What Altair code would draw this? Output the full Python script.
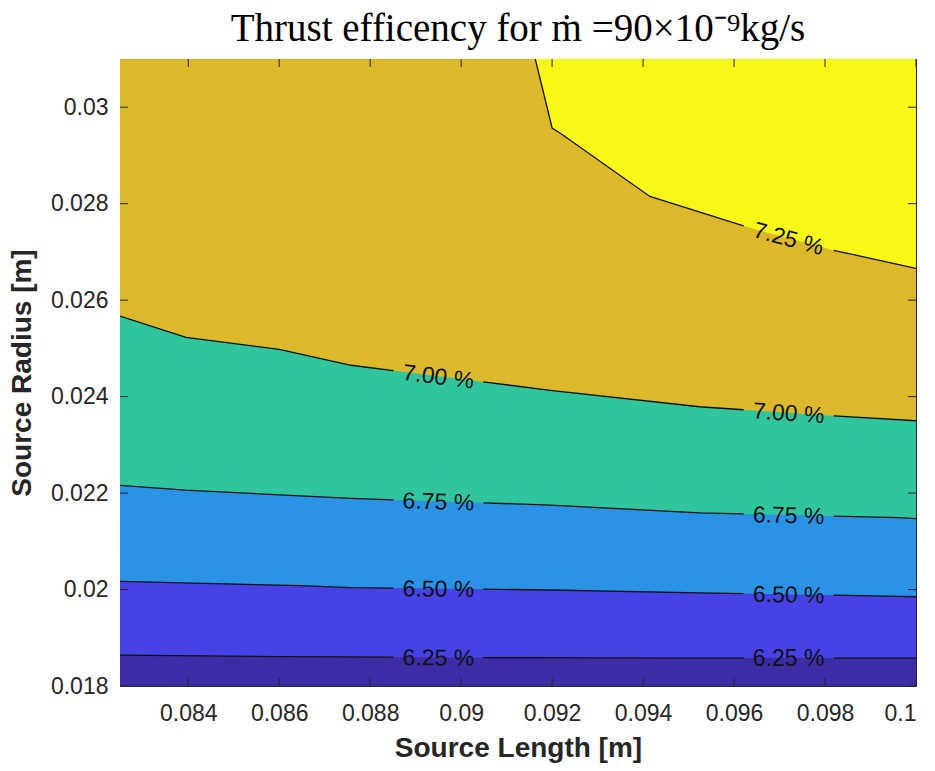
import altair as alt
import pandas as pd
import numpy as np

# ---------------- data ----------------
X_MIN, X_MAX = 0.0825, 0.1
Y_MIN, Y_MAX = 0.018, 0.031

x_ticks = [0.084, 0.086, 0.088, 0.09, 0.092, 0.094, 0.096, 0.098, 0.1]
y_ticks = [0.018, 0.02, 0.022, 0.024, 0.026, 0.028, 0.03]

# contour lines (x, y vertices)
c625_x = [0.0825, 0.0860, 0.0900, 0.0950, 0.1000]
c625_y = [0.01864, 0.01861, 0.01859, 0.01858, 0.01858]

c650_x = [0.0825, 0.08648, 0.08758, 0.09196, 0.09524, 0.09962, 0.1]
c650_y = [0.02017, 0.02008, 0.02004, 0.01999, 0.01993, 0.01986, 0.01985]

c675_x = [0.0825, 0.08394, 0.08758, 0.09196, 0.09524, 0.09962, 0.1]
c675_y = [0.02216, 0.02206, 0.02189, 0.02175, 0.02159, 0.02149, 0.02147]

c700_x = [0.0825, 0.08395, 0.0860, 0.08758, 0.09196, 0.09524, 0.0982, 0.1]
c700_y = [0.02567, 0.02523, 0.02498, 0.02465, 0.02413, 0.02379, 0.02360, 0.02350]

c725_x = [0.09163, 0.09200, 0.09218, 0.09415, 0.09627, 0.09816, 0.1]
c725_y = [0.03100, 0.02957, 0.02946, 0.02815, 0.02752, 0.02704, 0.02666]

level_names = ["6.25 %", "6.50 %", "6.75 %", "7.00 %", "7.25 %"]
level_x = [c625_x, c650_x, c675_x, c700_x, c725_x]
level_y = [c625_y, c650_y, c675_y, c700_y, c725_y]
# where each label sits along its line (x positions)
label_xs = [[0.0895, 0.0972], [0.0895, 0.0972], [0.0895, 0.0972],
            [0.0895, 0.0972], [0.0972]]

# band colours, bottom to top (parula-like)
band_colors = ["#3C2DA6", "#4742E5", "#2A93E6", "#30C59C", "#DBB92A", "#F8F716"]

TITLE = "Thrust efficency for ṁ =90×10⁻⁹kg/s"
X_TITLE = "Source Length [m]"
Y_TITLE = "Source Radius [m]"

# ---------------- layout ----------------
W, H = 796, 627
PAD_L, PAD_T = 120, 59
TICK_FONT = "Liberation Sans"
GAP_PX = 45  # half width of the gap cut in a line behind a label

px_per_x = W / (X_MAX - X_MIN)
px_per_y = H / (Y_MAX - Y_MIN)
gap_dx = GAP_PX / px_per_x

xs = alt.Scale(domain=[X_MIN, X_MAX], nice=False, zero=False)
ys = alt.Scale(domain=[Y_MIN, Y_MAX], nice=False, zero=False)

x_axis = alt.Axis(
    values=x_ticks, format="~g", grid=False, domain=False, ticks=False,
    labelFont=TICK_FONT, labelFontSize=23, labelColor="#262626", labelPadding=16,
    titleFont=TICK_FONT, titleFontSize=28, titleFontWeight="bold", titleColor="#262626",
    titleBaseline="middle", titleY=62, titleX=W / 2,
)
y_axis = alt.Axis(
    values=y_ticks, format="~g", grid=False, domain=False, ticks=False,
    labelFont=TICK_FONT, labelFontSize=23, labelColor="#262626", labelPadding=12,
    titleFont=TICK_FONT, titleFontSize=28, titleFontWeight="bold", titleColor="#262626",
    titleBaseline="middle", titleX=-98, titleY=H / 2, titleAngle=270,
)


def X(field):
    return alt.X(field, type="quantitative", scale=xs, title=X_TITLE, axis=x_axis)


def Y(field):
    return alt.Y(field, type="quantitative", scale=ys, title=Y_TITLE, axis=y_axis)


# ---------------- filled bands (painted top to bottom) ----------------
area_frames = [
    pd.DataFrame({"x": [X_MIN, X_MAX], "y": [Y_MAX, Y_MAX]}),                  # yellow
    pd.DataFrame({"x": [X_MIN] + c725_x, "y": [Y_MAX] + c725_y}),              # gold
    pd.DataFrame({"x": c700_x, "y": c700_y}),                                   # teal
    pd.DataFrame({"x": c675_x, "y": c675_y}),                                   # blue
    pd.DataFrame({"x": c650_x, "y": c650_y}),                                   # indigo
    pd.DataFrame({"x": c625_x, "y": c625_y}),                                   # dark
]
area_cols = band_colors[::-1]

layers = []
for df, col in zip(area_frames, area_cols):
    layers.append(
        alt.Chart(df).mark_area(color=col, opacity=1, orient="vertical", clip=True).encode(
            x=X("x"), y=Y("y"), y2=alt.datum(Y_MIN),
        )
    )

# ---------------- contour lines broken at labels, and labels ----------------
line_rows = []
label_rows = []
for name, lx, ly, lab_x in zip(level_names, level_x, level_y, label_xs):
    lx = np.asarray(lx)
    ly = np.asarray(ly)
    cuts = []
    for cx in lab_x:
        a, b = cx - gap_dx, cx + gap_dx
        ya, yb = float(np.interp(a, lx, ly)), float(np.interp(b, lx, ly))
        cuts.append((a, b))
        ang = np.degrees(np.arctan2(-(yb - ya) * px_per_y, (b - a) * px_per_x))
        label_rows.append({"x": cx, "y": float(np.interp(cx, lx, ly)),
                           "text": name, "angle": float(ang % 360)})
    starts = [lx[0]] + [c[1] for c in cuts]
    ends = [c[0] for c in cuts] + [lx[-1]]
    for seg, (s, e) in enumerate(zip(starts, ends)):
        pts = [(s, float(np.interp(s, lx, ly)))]
        pts += [(float(x), float(y)) for x, y in zip(lx, ly) if s < x < e]
        pts.append((e, float(np.interp(e, lx, ly))))
        for x, y in pts:
            line_rows.append({"x": x, "y": y, "seg": f"{name}-{seg}"})

lines = alt.Chart(pd.DataFrame(line_rows)).mark_line(
    color="#111111", strokeWidth=1.3, clip=True
).encode(
    x=X("x"), y=Y("y"), detail="seg:N", order="x:Q",
)
layers.append(lines)

labels = alt.Chart(pd.DataFrame(label_rows)).mark_text(
    font=TICK_FONT, fontSize=23, color="#111111", align="center", baseline="middle", dy=1
).encode(
    x=X("x"), y=Y("y"), text="text:N",
    angle=alt.Angle("angle:Q", scale=None),
)
layers.append(labels)

# ---------------- inward ticks on all four sides ----------------
TL = 8
xt = pd.DataFrame({"x": x_ticks})
yt = pd.DataFrame({"y": y_ticks})
tick_col = "#262626"
layers.append(alt.Chart(xt).mark_rule(color=tick_col, strokeWidth=1).encode(
    x=X("x"), y=alt.value(H), y2=alt.value(H - TL)))
layers.append(alt.Chart(xt).mark_rule(color=tick_col, strokeWidth=1).encode(
    x=X("x"), y=alt.value(0), y2=alt.value(TL)))
layers.append(alt.Chart(yt).mark_rule(color=tick_col, strokeWidth=1).encode(
    y=Y("y"), x=alt.value(0), x2=alt.value(TL)))
layers.append(alt.Chart(yt).mark_rule(color=tick_col, strokeWidth=1).encode(
    y=Y("y"), x=alt.value(W), x2=alt.value(W - TL)))

chart = alt.layer(*layers).properties(
    width=W,
    height=H,
    background="white",
    title=alt.TitleParams(
        TITLE,
        font="Liberation Serif", fontSize=39, fontWeight="normal",
        color="#000000", anchor="middle", offset=10,
    ),
    autosize=alt.AutoSizeParams(type="none"),
    padding={"left": PAD_L, "top": PAD_T, "right": 935 - PAD_L - W, "bottom": 771 - PAD_T - H},
).configure_view(
    stroke="#262626", strokeWidth=1
)

chart.save("out.html", embed_options={"renderer": "svg", "actions": False})
